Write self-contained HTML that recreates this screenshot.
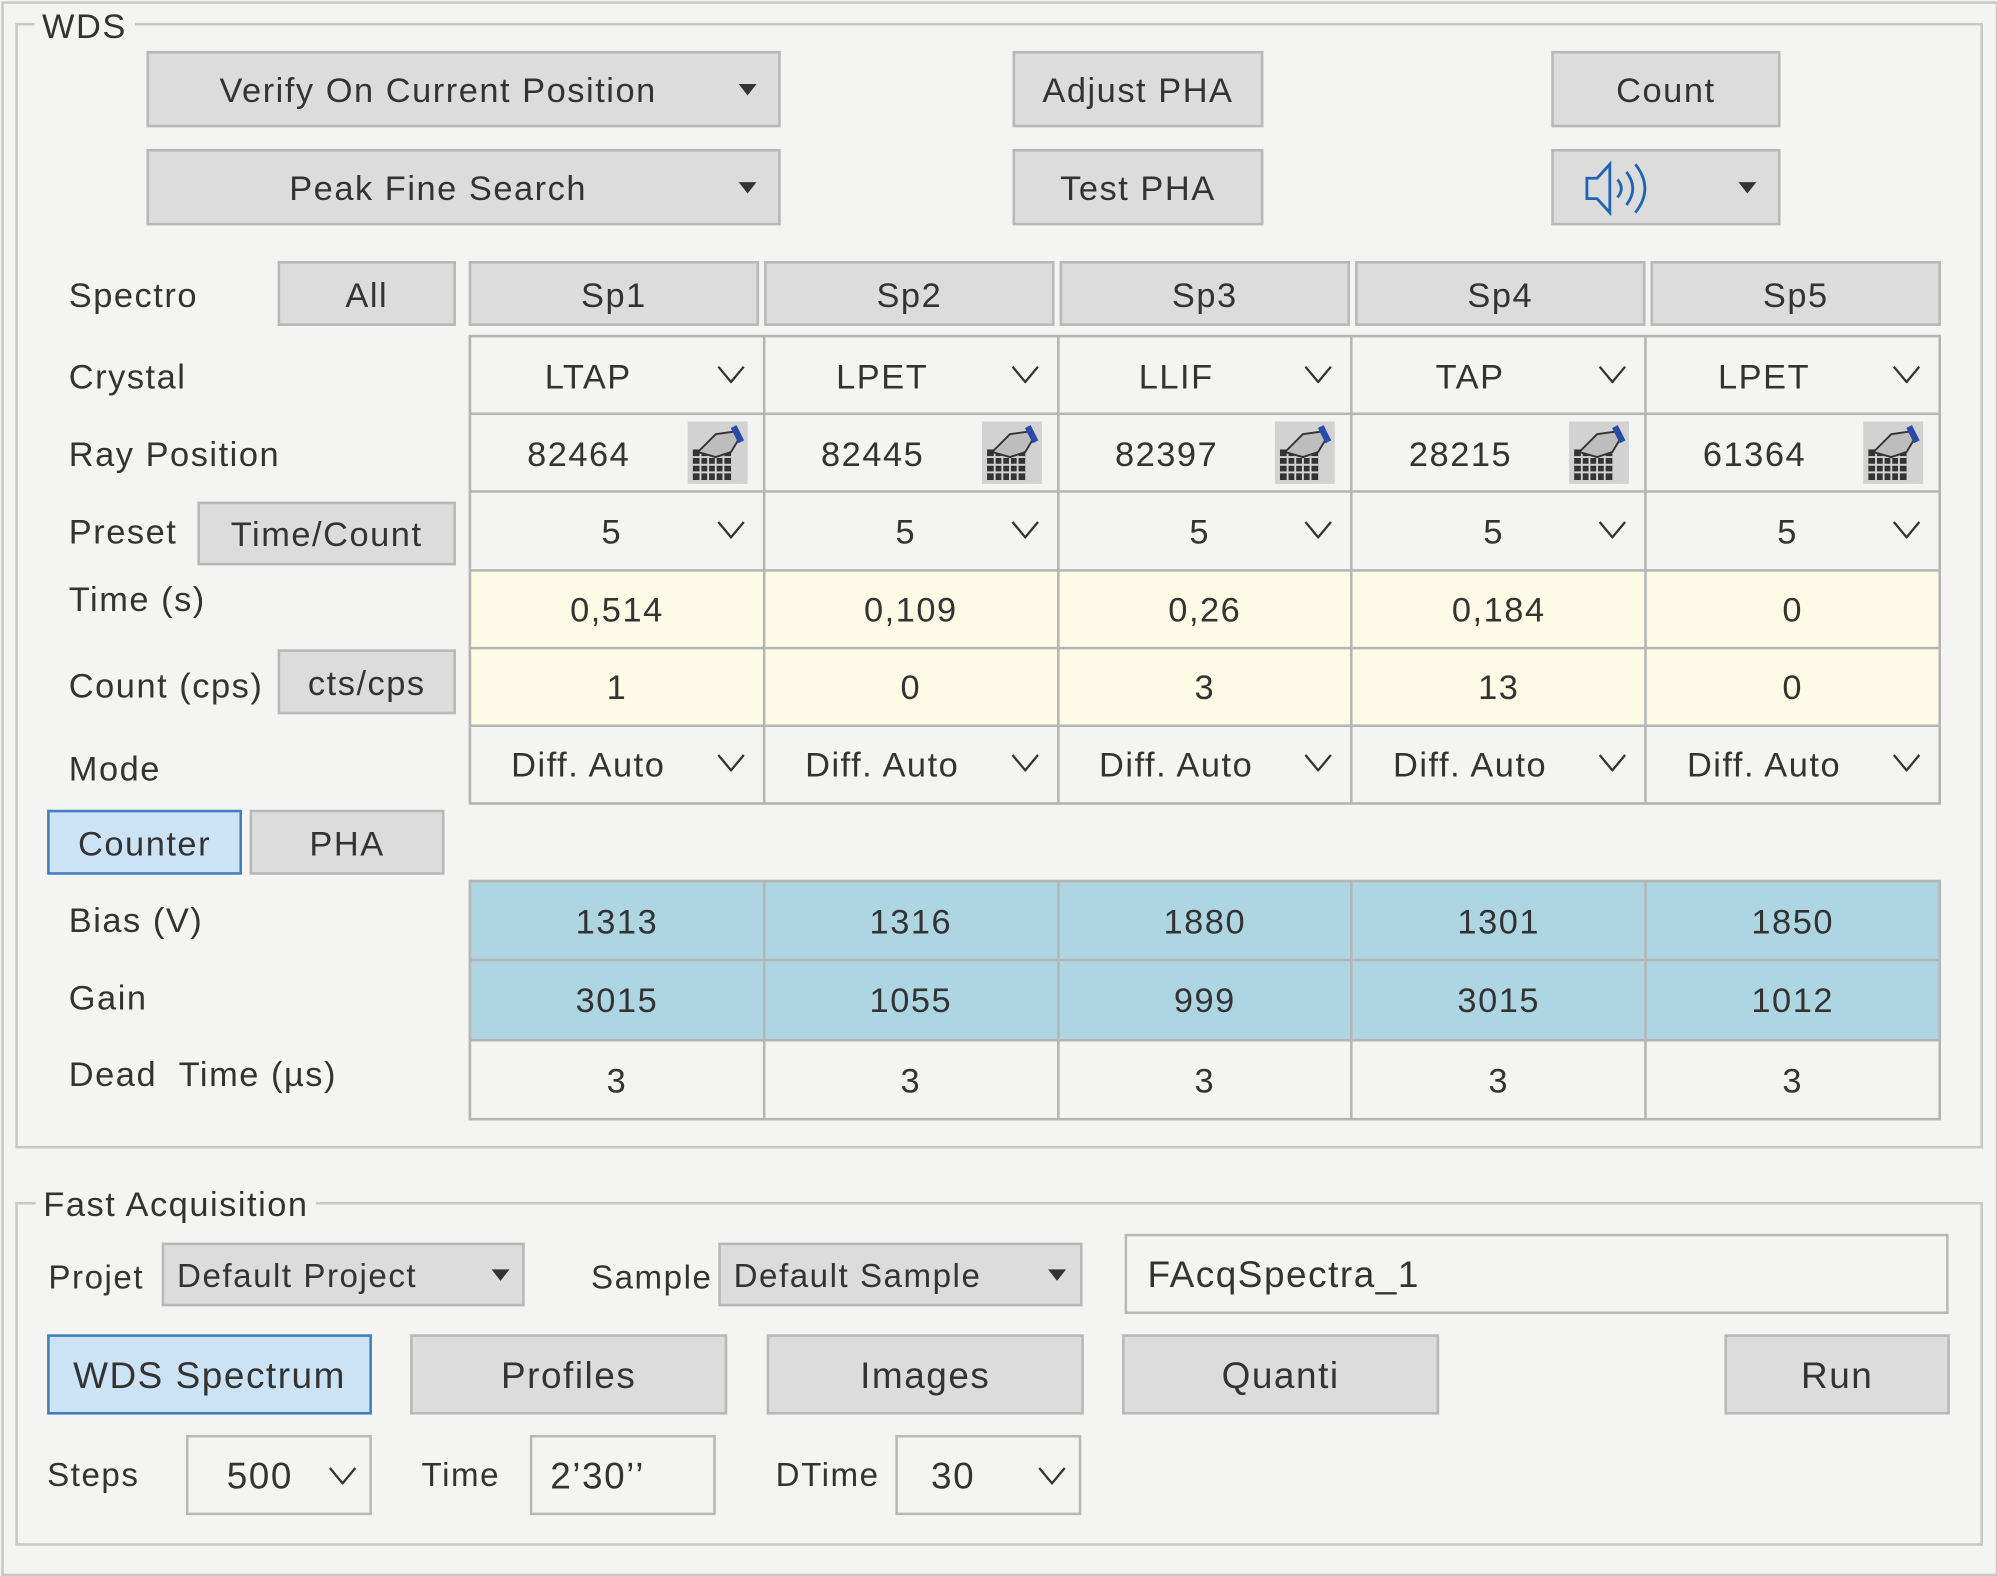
<!DOCTYPE html>
<html><head><meta charset="utf-8">
<style>
html,body{margin:0;padding:0;width:1997px;height:1575px;overflow:hidden;background:#f4f4f2;}
#s{position:absolute;left:0;top:0;width:1568px;height:1237px;transform:scale(1.27360,1.27324);transform-origin:0 0;font-family:"Liberation Sans",sans-serif;color:#333;font-size:27px;letter-spacing:1.2px;}
.a{position:absolute;}
.grp{position:absolute;border:2px solid #c8c8c8;}
.gt{position:absolute;background:#f4f4f2;padding:0 6px;line-height:30px;}
.b{position:absolute;background:#dcdcdc;border:2px solid #b8b8b8;box-sizing:border-box;display:flex;align-items:center;justify-content:center;padding-top:3px;}
.bl{background:#cce3f6;border-color:#3f7fc0;}
.tri{position:absolute;width:0;height:0;border-left:7px solid transparent;border-right:7px solid transparent;border-top:9px solid #333;}
.lab{position:absolute;line-height:30px;}
.g{position:absolute;display:grid;grid-template-columns:repeat(5,1fr);gap:2px;background:#b5b5b5;border:2px solid #b5b5b5;box-sizing:border-box;}
.c{background:#f4f4f2;position:relative;display:flex;align-items:center;padding-top:3px;}
.y{background:#fdfbe6;justify-content:center;}
.bb{background:#add5e2;justify-content:center;}
.w{justify-content:center;}
.t{position:absolute;left:0;right:45px;text-align:center;}
.chev{position:absolute;right:14px;top:50%;margin-top:-8px;}
.ic{position:absolute;right:12px;top:5px;width:47px;height:49px;background:#d2d2d2;}
.f{position:absolute;background:#f4f4f2;border:2px solid #b8b8b8;box-sizing:border-box;display:flex;align-items:center;padding-top:3px;}
.cb{position:absolute;background:#dcdcdc;border:2px solid #b8b8b8;box-sizing:border-box;display:flex;align-items:center;padding-left:10px;padding-top:3px;font-size:26px;}
</style></head><body><div id="s">
<div class="a" style="left:1px;top:1px;width:1564px;height:1233px;border:2px solid #c8c8c8;"></div>

<div class="grp" style="left:12px;top:18px;width:1541px;height:880px;"></div>
<div class="gt" style="left:27px;top:6px;">WDS</div>

<div class="b" style="left:115px;top:40px;width:498px;height:60px;"><span style="margin-right:40px">Verify On Current Position</span></div>
<div class="tri" style="left:580px;top:66px;"></div>
<div class="b" style="left:115px;top:117px;width:498px;height:60px;"><span style="margin-right:40px">Peak Fine Search</span></div>
<div class="tri" style="left:580px;top:143px;"></div>
<div class="b" style="left:795px;top:40px;width:197px;height:60px;">Adjust PHA</div>
<div class="b" style="left:795px;top:117px;width:197px;height:60px;">Test PHA</div>
<div class="b" style="left:1218px;top:40px;width:180px;height:60px;">Count</div>
<div class="b" style="left:1218px;top:117px;width:180px;height:60px;"></div>
<svg class="a" style="left:1244px;top:126px" width="60" height="44" viewBox="0 0 60 44"><g fill="none" stroke="#1e64b4" stroke-width="2.2"><path d="M2 14h8l10-11v38l-10-11h-8z"/><path d="M26 15q6 7 0 14"/><path d="M33 9q10 13 0 26"/><path d="M40 3q15 19 0 38"/></g></svg>
<div class="tri" style="left:1365px;top:143px;"></div>

<div class="lab" style="left:54px;top:217px;">Spectro</div>
<div class="b" style="left:218px;top:205px;width:140px;height:51px;">All</div>
<div class="b" style="left:368px;top:205px;width:228px;height:51px;">Sp1</div>
<div class="b" style="left:600px;top:205px;width:228px;height:51px;">Sp2</div>
<div class="b" style="left:832px;top:205px;width:228px;height:51px;">Sp3</div>
<div class="b" style="left:1064px;top:205px;width:228px;height:51px;">Sp4</div>
<div class="b" style="left:1296px;top:205px;width:228px;height:51px;">Sp5</div>

<div class="lab" style="left:54px;top:281px;">Crystal</div>
<div class="lab" style="left:54px;top:342px;">Ray Position</div>
<div class="lab" style="left:54px;top:403px;">Preset</div>
<div class="b" style="left:155px;top:394px;width:203px;height:50px;">Time/Count</div>
<div class="lab" style="left:54px;top:456px;">Time (s)</div>
<div class="lab" style="left:54px;top:524px;">Count (cps)</div>
<div class="b" style="left:218px;top:510px;width:140px;height:51px;">cts/cps</div>
<div class="lab" style="left:54px;top:589px;">Mode</div>
<div class="b bl" style="left:37px;top:636px;width:153px;height:51px;">Counter</div>
<div class="b" style="left:196px;top:636px;width:153px;height:51px;">PHA</div>
<div class="lab" style="left:54px;top:708px;">Bias (V)</div>
<div class="lab" style="left:54px;top:769px;">Gain</div>
<div class="lab" style="left:54px;top:829px;">Dead&nbsp; Time (µs)</div>

<svg width="0" height="0" style="position:absolute"><defs><symbol id="cv" viewBox="0 0 22 14"><polyline points="1,1 11,13 21,1" fill="none" stroke="#333" stroke-width="1.8"/></symbol><symbol id="ic" viewBox="0 0 47 49"><rect width="47" height="49" fill="#d2d2d2"/><rect x="4" y="22" width="30" height="24" fill="#333"/><g stroke="#d2d2d2" stroke-width="1.5"><path d="M4 28h30M4 34h30M4 40h30M10 22v24M16 22v24M22 22v24M28 22v24"/></g><path d="M8 24l14-14 14-2 4 6-6 10-12 4z" fill="#bdbdbd" stroke="#333" stroke-width="1.5"/><path d="M36 4l6 12" stroke="#2a4aa8" stroke-width="5"/></symbol></defs></svg>

<div class="g" style="left:368px;top:263px;width:1156px;height:369px;grid-template-rows:repeat(6,1fr);">
<div class="c"><span class="t">LTAP</span><svg class="chev" width="22" height="14"><use href="#cv"/></svg></div>
<div class="c"><span class="t">LPET</span><svg class="chev" width="22" height="14"><use href="#cv"/></svg></div>
<div class="c"><span class="t">LLIF</span><svg class="chev" width="22" height="14"><use href="#cv"/></svg></div>
<div class="c"><span class="t">TAP</span><svg class="chev" width="22" height="14"><use href="#cv"/></svg></div>
<div class="c"><span class="t">LPET</span><svg class="chev" width="22" height="14"><use href="#cv"/></svg></div>

<div class="c"><span class="t" style="right:60px">82464</span><svg class="ic" width="47" height="49"><use href="#ic"/></svg></div>
<div class="c"><span class="t" style="right:60px">82445</span><svg class="ic" width="47" height="49"><use href="#ic"/></svg></div>
<div class="c"><span class="t" style="right:60px">82397</span><svg class="ic" width="47" height="49"><use href="#ic"/></svg></div>
<div class="c"><span class="t" style="right:60px">28215</span><svg class="ic" width="47" height="49"><use href="#ic"/></svg></div>
<div class="c"><span class="t" style="right:60px">61364</span><svg class="ic" width="47" height="49"><use href="#ic"/></svg></div>

<div class="c"><span class="t" style="right:8px">5</span><svg class="chev" width="22" height="14"><use href="#cv"/></svg></div>
<div class="c"><span class="t" style="right:8px">5</span><svg class="chev" width="22" height="14"><use href="#cv"/></svg></div>
<div class="c"><span class="t" style="right:8px">5</span><svg class="chev" width="22" height="14"><use href="#cv"/></svg></div>
<div class="c"><span class="t" style="right:8px">5</span><svg class="chev" width="22" height="14"><use href="#cv"/></svg></div>
<div class="c"><span class="t" style="right:8px">5</span><svg class="chev" width="22" height="14"><use href="#cv"/></svg></div>

<div class="c y">0,514</div><div class="c y">0,109</div><div class="c y">0,26</div><div class="c y">0,184</div><div class="c y">0</div>
<div class="c y">1</div><div class="c y">0</div><div class="c y">3</div><div class="c y">13</div><div class="c y">0</div>

<div class="c"><span class="t">Diff. Auto</span><svg class="chev" width="22" height="14"><use href="#cv"/></svg></div>
<div class="c"><span class="t">Diff. Auto</span><svg class="chev" width="22" height="14"><use href="#cv"/></svg></div>
<div class="c"><span class="t">Diff. Auto</span><svg class="chev" width="22" height="14"><use href="#cv"/></svg></div>
<div class="c"><span class="t">Diff. Auto</span><svg class="chev" width="22" height="14"><use href="#cv"/></svg></div>
<div class="c"><span class="t">Diff. Auto</span><svg class="chev" width="22" height="14"><use href="#cv"/></svg></div>
</div>

<div class="g" style="left:368px;top:691px;width:1156px;height:189px;grid-template-rows:repeat(3,1fr);">
<div class="c bb">1313</div><div class="c bb">1316</div><div class="c bb">1880</div><div class="c bb">1301</div><div class="c bb">1850</div>
<div class="c bb">3015</div><div class="c bb">1055</div><div class="c bb">999</div><div class="c bb">3015</div><div class="c bb">1012</div>
<div class="c w">3</div><div class="c w">3</div><div class="c w">3</div><div class="c w">3</div><div class="c w">3</div>
</div>

<div class="grp" style="left:12px;top:944px;width:1541px;height:266px;"></div>
<div class="gt" style="left:28px;top:931px;">Fast Acquisition</div>

<div class="lab" style="left:38px;top:988px;font-size:26px;">Projet</div>
<div class="cb" style="left:127px;top:976px;width:285px;height:50px;">Default Project</div>
<div class="tri" style="left:386px;top:997px;"></div>
<div class="lab" style="left:464px;top:988px;font-size:26px;">Sample</div>
<div class="cb" style="left:564px;top:976px;width:286px;height:50px;">Default Sample</div>
<div class="tri" style="left:823px;top:997px;"></div>
<div class="f" style="left:883px;top:969px;width:647px;height:63px;padding-left:16px;font-size:29px;">FAcqSpectra_1</div>

<div class="b bl" style="left:37px;top:1048px;width:255px;height:63px;font-size:29px;">WDS Spectrum</div>
<div class="b" style="left:322px;top:1048px;width:249px;height:63px;font-size:29px;">Profiles</div>
<div class="b" style="left:602px;top:1048px;width:249px;height:63px;font-size:29px;">Images</div>
<div class="b" style="left:881px;top:1048px;width:249px;height:63px;font-size:29px;">Quanti</div>
<div class="b" style="left:1354px;top:1048px;width:177px;height:63px;font-size:29px;">Run</div>

<div class="lab" style="left:37px;top:1143px;font-size:26px;">Steps</div>
<div class="f" style="left:146px;top:1127px;width:146px;height:63px;padding-left:30px;font-size:29px;">500</div>
<svg class="a" style="left:258px;top:1152px" width="22" height="14"><use href="#cv"/></svg>
<div class="lab" style="left:331px;top:1143px;font-size:26px;">Time</div>
<div class="f" style="left:416px;top:1127px;width:146px;height:63px;padding-left:14px;font-size:29px;">2’30’’</div>
<div class="lab" style="left:609px;top:1143px;font-size:26px;">DTime</div>
<div class="f" style="left:703px;top:1127px;width:146px;height:63px;padding-left:26px;font-size:29px;">30</div>
<svg class="a" style="left:815px;top:1152px" width="22" height="14"><use href="#cv"/></svg>
</div></body></html>
